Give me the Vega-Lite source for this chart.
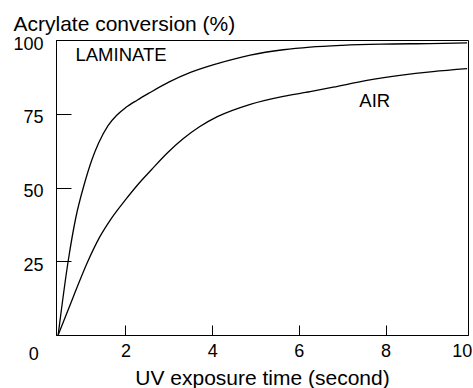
{
  "$schema": "https://vega.github.io/schema/vega-lite/v6.json",
  "width": 412,
  "height": 295,
  "autosize": {"type": "none"},
  "padding": {"left": 56, "top": 40, "right": 5, "bottom": 53},
  "background": "white",
  "config": {
    "view": {"stroke": "black", "strokeWidth": 1},
    "font": "Liberation Sans",
    "axis": {"grid": false, "domainColor": "black", "tickColor": "black", "labelColor": "black", "titleColor": "black", "labelFont": "Liberation Sans", "titleFont": "Liberation Sans", "titleFontWeight": "normal"}
  },
  "datasets": {
    "curves": [
      {"series": "LAMINATE", "t": 0.45, "v": 0},
      {"series": "LAMINATE", "t": 0.68, "v": 25},
      {"series": "LAMINATE", "t": 0.86, "v": 40},
      {"series": "LAMINATE", "t": 1.05, "v": 51},
      {"series": "LAMINATE", "t": 1.23, "v": 59.5},
      {"series": "LAMINATE", "t": 1.38, "v": 65},
      {"series": "LAMINATE", "t": 1.6, "v": 71},
      {"series": "LAMINATE", "t": 1.8, "v": 74.5},
      {"series": "LAMINATE", "t": 2.0, "v": 77},
      {"series": "LAMINATE", "t": 2.27, "v": 79.6},
      {"series": "LAMINATE", "t": 2.57, "v": 82.2},
      {"series": "LAMINATE", "t": 3.0, "v": 85.7},
      {"series": "LAMINATE", "t": 3.5, "v": 89},
      {"series": "LAMINATE", "t": 4.12, "v": 92},
      {"series": "LAMINATE", "t": 4.88, "v": 94.9},
      {"series": "LAMINATE", "t": 5.64, "v": 96.7},
      {"series": "LAMINATE", "t": 6.26, "v": 97.6},
      {"series": "LAMINATE", "t": 7.0, "v": 98.2},
      {"series": "LAMINATE", "t": 7.9, "v": 98.6},
      {"series": "LAMINATE", "t": 9.0, "v": 98.8},
      {"series": "LAMINATE", "t": 9.88, "v": 99},
      {"series": "AIR", "t": 0.45, "v": 0},
      {"series": "AIR", "t": 0.8, "v": 13},
      {"series": "AIR", "t": 1.12, "v": 24.5},
      {"series": "AIR", "t": 1.4, "v": 33},
      {"series": "AIR", "t": 1.69, "v": 39.8},
      {"series": "AIR", "t": 2.0, "v": 45.8},
      {"series": "AIR", "t": 2.3, "v": 51.2},
      {"series": "AIR", "t": 2.6, "v": 56},
      {"series": "AIR", "t": 2.96, "v": 61.6},
      {"series": "AIR", "t": 3.33, "v": 66.5},
      {"series": "AIR", "t": 3.7, "v": 70.5},
      {"series": "AIR", "t": 4.12, "v": 74},
      {"series": "AIR", "t": 4.88, "v": 78.2},
      {"series": "AIR", "t": 5.64, "v": 80.9},
      {"series": "AIR", "t": 6.26, "v": 82.5},
      {"series": "AIR", "t": 6.79, "v": 84},
      {"series": "AIR", "t": 7.57, "v": 86.3},
      {"series": "AIR", "t": 8.33, "v": 88},
      {"series": "AIR", "t": 9.09, "v": 89.3},
      {"series": "AIR", "t": 9.88, "v": 90.3}
    ],
    "labels": [
      {"label": "LAMINATE", "t": 1.9, "v": 95},
      {"label": "AIR", "t": 7.75, "v": 79.4}
    ],
    "endLabels": [
      {"label": "0", "t": 0, "v": -6.8},
      {"label": "10", "t": 10, "v": -5.8}
    ]
  },
  "encoding": {
    "x": {
      "field": "t", "type": "quantitative",
      "scale": {"domain": [0.4, 9.9], "nice": false, "zero": false},
      "axis": {
        "title": "UV exposure time (second)",
        "values": [2, 4, 6, 8],
        "tickSize": -10,
        "labelFontSize": 18,
        "labelPadding": 17,
        "titleFontSize": 21,
        "titleBaseline": "alphabetic",
        "titleY": 49
      }
    },
    "y": {
      "field": "v", "type": "quantitative",
      "scale": {"domain": [0, 100], "nice": false},
      "axis": {
        "title": "Acrylate conversion (%)",
        "values": [25, 50, 75, 100],
        "tickSize": -15,
        "labelFontSize": 18,
        "labelPadding": 28,
        "labelOffset": 4,
        "titleFontSize": 21,
        "titleAngle": 0,
        "titleAlign": "left",
        "titleBaseline": "alphabetic",
        "titleX": -43,
        "titleY": -10
      }
    }
  },
  "layer": [
    {
      "data": {"name": "curves"},
      "mark": {"type": "line", "color": "black", "strokeWidth": 1.3, "interpolate": "monotone"},
      "encoding": {"detail": {"field": "series", "type": "nominal"}}
    },
    {
      "data": {"name": "labels"},
      "mark": {"type": "text", "fontSize": 18.5, "color": "black", "align": "center", "baseline": "middle", "font": "Liberation Sans"},
      "encoding": {"text": {"field": "label", "type": "nominal"}}
    },
    {
      "data": {"name": "endLabels"},
      "mark": {"type": "text", "fontSize": 18, "color": "black", "align": "right", "baseline": "middle", "font": "Liberation Sans", "clip": false},
      "encoding": {"text": {"field": "label", "type": "nominal"}}
    }
  ]
}
